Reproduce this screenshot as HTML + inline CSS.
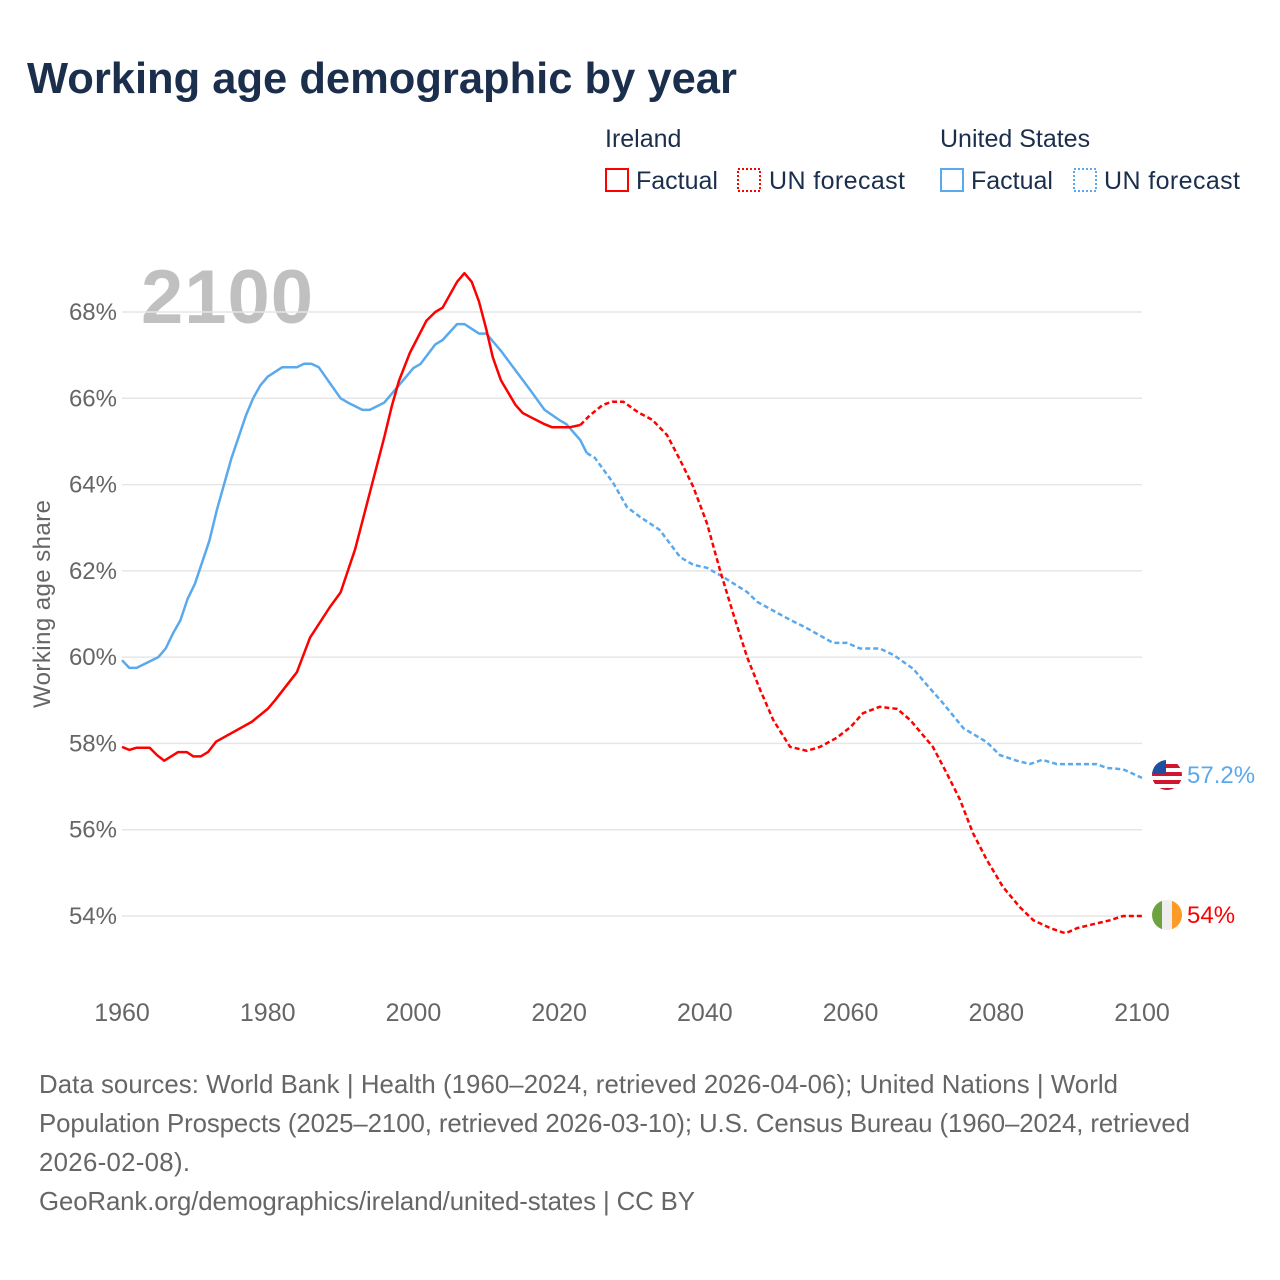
<!DOCTYPE html>
<html><head><meta charset="utf-8"><style>
body{margin:0;background:#fff;font-family:"Liberation Sans",sans-serif}
svg{display:block}
</style></head><body>
<svg id="chart" width="1280" height="1280" xmlns="http://www.w3.org/2000/svg">
<rect width="1280" height="1280" fill="#fff"/>
<text x="27" y="93" font-size="43.5" font-weight="bold" fill="#1b2f4d">Working age demographic by year</text>
<g font-size="25" fill="#1b2f4d">
<text x="605" y="147">Ireland</text>
<text x="940" y="147">United States</text>
<g><rect x="606" y="169" width="22" height="22" fill="none" stroke="#ff0000" stroke-width="2"/><text x="636" y="189">Factual</text></g>
<g><rect x="738" y="169" width="22" height="22" fill="none" stroke="#ff0000" stroke-width="2" stroke-dasharray="2,2"/><text x="769" y="189" textLength="136">UN forecast</text></g>
<g><rect x="941" y="169" width="22" height="22" fill="none" stroke="#5aa9ec" stroke-width="2"/><text x="971" y="189">Factual</text></g>
<g><rect x="1074" y="169" width="22" height="22" fill="none" stroke="#5aa9ec" stroke-width="2" stroke-dasharray="2,2"/><text x="1104" y="189" textLength="136">UN forecast</text></g>
</g>
<text x="141" y="323" font-size="76" font-weight="bold" fill="#c0c0c0" textLength="172">2100</text>
<g id="grid"></g>
<g id="yticks" font-size="24" fill="#666" text-anchor="end"></g>
<g id="xticks" font-size="25" fill="#666" text-anchor="middle"></g>
<text transform="translate(50,604) rotate(-90)" text-anchor="middle" font-size="24" fill="#666" textLength="208">Working age share</text>
<g id="lines"></g>
<g>
<g>
<clipPath id="cu"><circle cx="1167" cy="775" r="15"/></clipPath>
<g clip-path="url(#cu)"><rect x="1152" y="760" width="30" height="30" fill="#fff"/>
<rect x="1152" y="764" width="30" height="4" fill="#d0152e"/><rect x="1152" y="772" width="30" height="4" fill="#d0152e"/><rect x="1152" y="780" width="30" height="4" fill="#d0152e"/><rect x="1152" y="788" width="30" height="4" fill="#d0152e"/>
<rect x="1152" y="760" width="14" height="14" fill="#1e4fa0"/></g></g>
<text id="usLab" x="1187" y="783" font-size="24" fill="#5aa9ec">57.2%</text>
<g>
<clipPath id="ci"><circle cx="1167" cy="915" r="15"/></clipPath>
<g clip-path="url(#ci)"><rect x="1152" y="900" width="10" height="30" fill="#6ea240"/><rect x="1162" y="900" width="10" height="30" fill="#eee"/><rect x="1172" y="900" width="10" height="30" fill="#fe9a26"/></g></g>
<text id="ieLab" x="1187" y="923" font-size="24" fill="#ff0000">54%</text>
</g>
<g font-size="25.8" fill="#666">
<text x="39" y="1093" textLength="1079">Data sources: World Bank | Health (1960–2024, retrieved 2026-04-06); United Nations | World</text>
<text x="39" y="1132" textLength="1151">Population Prospects (2025–2100, retrieved 2026-03-10); U.S. Census Bureau (1960–2024, retrieved</text>
<text x="39" y="1171" textLength="151">2026-02-08).</text>
<text x="39" y="1210" textLength="656">GeoRank.org/demographics/ireland/united-states | CC BY</text>
</g>
</svg>
<script>
const yTicks=[54,56,58,60,62,64,66,68];
const xTicks=[1960,1980,2000,2020,2040,2060,2080,2100];
const ieYears=[1960,1961,1962,1963.8,1964.8,1965.8,1967.7,1968.9,1969.8,1970.8,1971.8,1972.9,1977.8,1980,1981,1984,1985.8,1988.5,1990,1992,1994,1996,1997,1998,1999.5,2001.8,2003,2004,2006,2007,2008,2009,2010,2010.9,2012,2014,2015,2016,2018,2019,2021.5,2022.9,2024.2,2026,2027.3,2028.8,2030.8,2032.8,2034.8,2036.6,2038.4,2040.3,2042.1,2043.9,2045.8,2047.6,2049.4,2051.7,2054,2055.8,2058.1,2060,2061.7,2064,2066.4,2068.2,2071.3,2073.2,2075,2076.8,2078.7,2080.9,2083.2,2085.1,2087.4,2089.5,2091.1,2093.3,2095.6,2097.4,2100];
const ieValues=[57.92,57.85,57.9,57.9,57.73,57.6,57.8,57.8,57.7,57.7,57.8,58.04,58.5,58.8,59.0,59.65,60.45,61.15,61.5,62.5,63.8,65.1,65.8,66.4,67.05,67.8,68.0,68.1,68.7,68.9,68.7,68.24,67.6,66.95,66.42,65.85,65.66,65.57,65.4,65.33,65.33,65.38,65.6,65.85,65.92,65.92,65.68,65.5,65.15,64.57,63.95,63.1,62.0,61.0,60.0,59.24,58.54,57.92,57.83,57.92,58.13,58.38,58.7,58.85,58.8,58.54,57.92,57.31,56.7,55.92,55.3,54.68,54.21,53.9,53.72,53.6,53.72,53.81,53.9,54.0,54.0];
const usYears=[1960,1961,1962,1965,1966,1967,1968,1969,1970,1972,1973,1975,1977,1978,1979,1980,1982,1984,1985,1986,1987,1990,1991,1993,1994,1996,1998,2000,2001,2003,2004,2006,2007,2009,2010,2012,2014,2016,2018,2020,2021,2022.9,2023.8,2024.9,2027.4,2029.3,2031.1,2033.8,2036.6,2038.4,2040.3,2042.5,2045.8,2047.2,2051.3,2054,2057.6,2059.5,2061.3,2064,2065.9,2068.6,2070.5,2072.7,2075.5,2078.7,2080.5,2082.8,2084.6,2086.3,2088.3,2093.8,2095.2,2097.4,2100];
const usValues=[59.93,59.75,59.75,60.0,60.2,60.55,60.85,61.35,61.7,62.7,63.4,64.6,65.6,66.0,66.3,66.5,66.72,66.72,66.8,66.8,66.72,66.0,65.9,65.73,65.73,65.9,66.3,66.7,66.8,67.25,67.35,67.72,67.72,67.5,67.5,67.1,66.65,66.2,65.73,65.5,65.4,65.03,64.73,64.62,64.04,63.48,63.25,62.95,62.32,62.14,62.07,61.86,61.51,61.28,60.9,60.67,60.33,60.33,60.2,60.2,60.05,59.73,59.35,58.93,58.35,58.03,57.73,57.6,57.52,57.62,57.52,57.52,57.43,57.4,57.2];
const forecastStart=2024;
const X=y=>122+(y-1960)*(1020/140);
const Y=v=>312+(68-v)*(604/14);
const NS="http://www.w3.org/2000/svg";
const grid=document.getElementById('grid'),yt=document.getElementById('yticks'),xt=document.getElementById('xticks'),lines=document.getElementById('lines');
yTicks.forEach(t=>{
 const l=document.createElementNS(NS,'line');
 
 
 l.setAttribute('x1',122);l.setAttribute('x2',1142);l.setAttribute('y1',Y(t));l.setAttribute('y2',Y(t));
 l.setAttribute('stroke','#e6e6e6');l.setAttribute('stroke-width','1.5');grid.appendChild(l);
 const tx=document.createElementNS(NS,'text');
 
 
 tx.setAttribute('x',117);tx.setAttribute('y',Y(t)+8);tx.textContent=t+'%';yt.appendChild(tx);
});
xTicks.forEach(t=>{
 const tx=document.createElementNS(NS,'text');
 
 
 tx.setAttribute('x',X(t));tx.setAttribute('y',1021);tx.textContent=t;xt.appendChild(tx);
});
function draw(years,vals,color,name){
 const a=[],b=[];
 let last=-1;
 years.forEach((yr,i)=>{if(yr<=forecastStart)last=i;});
 years.forEach((yr,i)=>{const p=X(yr).toFixed(1)+','+Y(vals[i]).toFixed(1);if(i<=last)a.push(p);if(i>=last)b.push(p);});
 const p1=document.createElementNS(NS,'polyline');
 
 
 p1.setAttribute('points',a.join(' '));p1.setAttribute('fill','none');p1.setAttribute('stroke',color);p1.setAttribute('stroke-width','2.5');p1.setAttribute('stroke-linejoin','round');
 lines.appendChild(p1);
 const p2=document.createElementNS(NS,'polyline');
 
 
 p2.setAttribute('points',b.join(' '));p2.setAttribute('fill','none');p2.setAttribute('stroke',color);p2.setAttribute('stroke-width','2.5');p2.setAttribute('stroke-dasharray','5,3');
 lines.appendChild(p2);
}
draw(usYears,usValues,'#5aa9ec','us');
draw(ieYears,ieValues,'#ff0000','ireland');
</script>
</body></html>
